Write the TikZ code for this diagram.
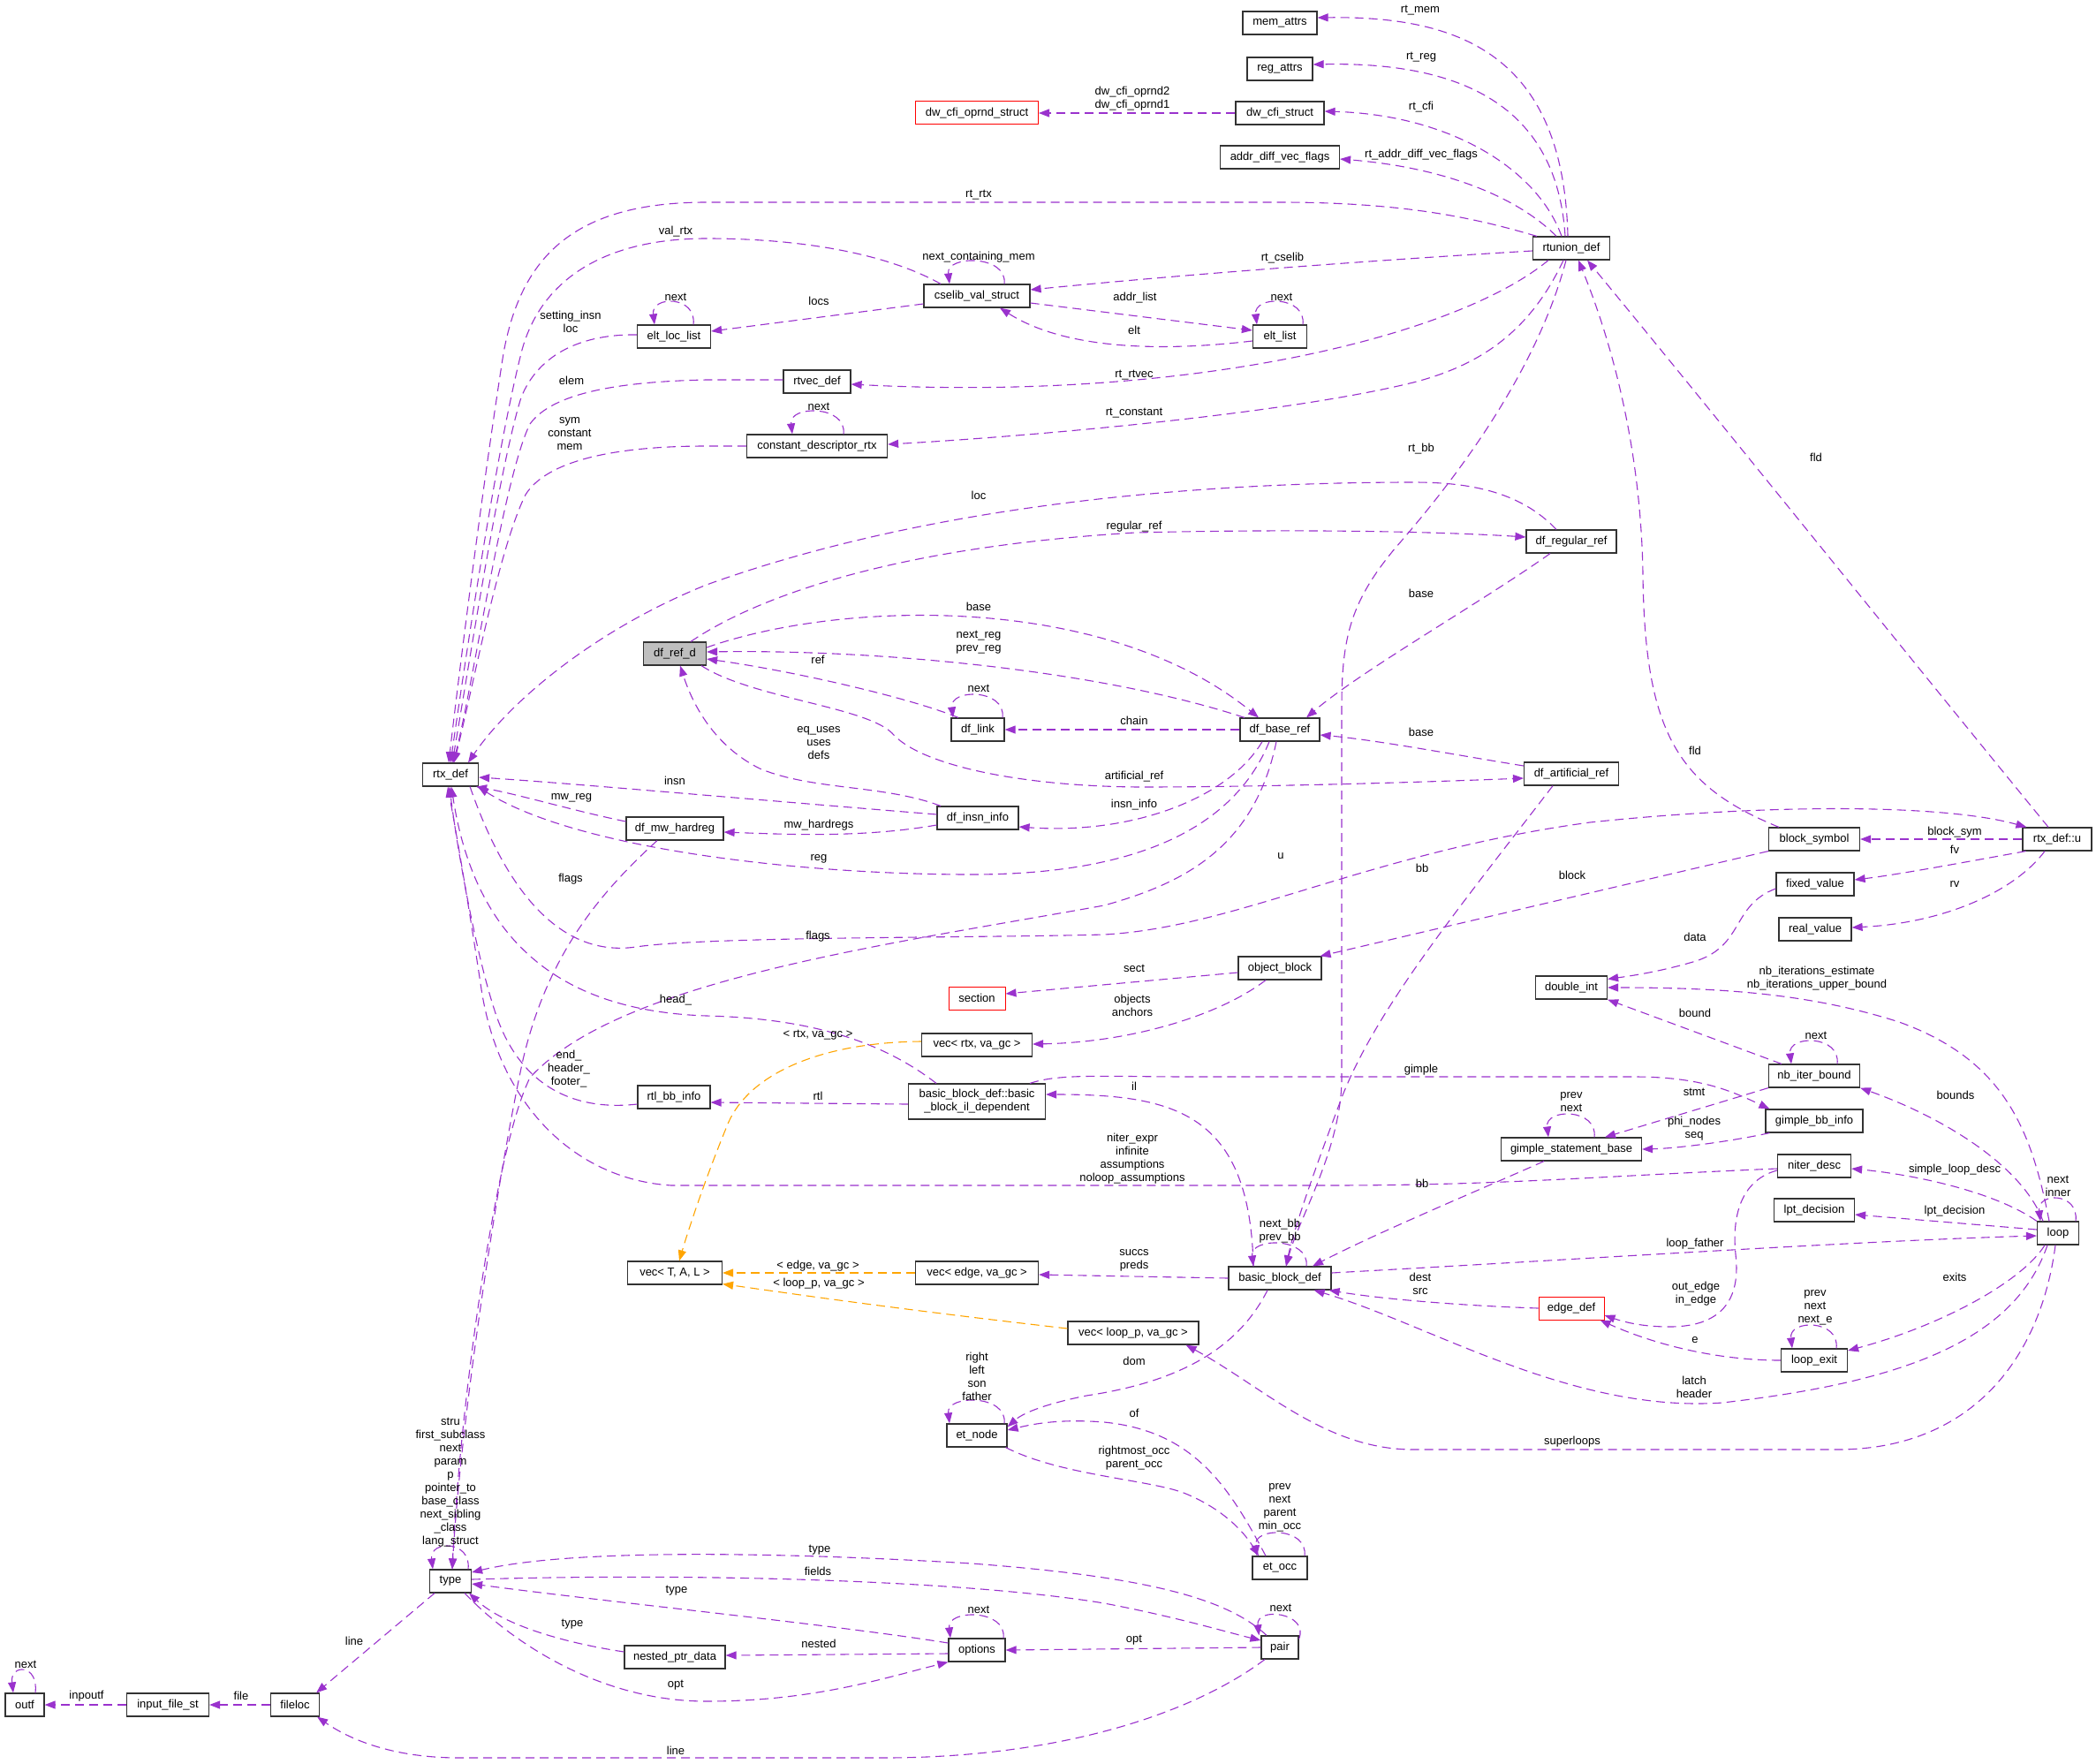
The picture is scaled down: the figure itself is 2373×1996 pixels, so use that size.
\documentclass[tikz,border=0pt]{standalone}
\usepackage{fontspec}
\setmainfont{Liberation Sans}
\usetikzlibrary{arrows.meta}
\definecolor{purp}{HTML}{9A32CD}
\definecolor{orng}{HTML}{FFA500}
\newcommand\lblfont{\fontsize{13}{15}\selectfont}
\begin{document}
\begin{tikzpicture}[x=1pt,y=-1pt,
  box/.style={draw=black!80,line width=1.2pt,fill=white,minimum height=26pt,inner xsep=3pt,inner ysep=0pt,font=\lblfont},
  rbox/.style={box,draw=red,line width=1pt},
  lab/.style={font=\lblfont,inner sep=0pt,align=center},
  pe/.style={draw=purp,line width=1.1pt,dash pattern=on 10pt off 6pt,-{Triangle[length=12pt,width=9pt]}},
  oe/.style={pe,draw=orng}]
\fill[white] (0,0) rectangle (2373,1996);
\useasboundingbox (0,0) rectangle (2373,1996);

% ---------- nodes ----------
\node[box,minimum width=84pt] (memattrs) at (1449,26) {mem\_attrs};
\node[box,minimum width=74pt] (regattrs) at (1449,78) {reg\_attrs};
\node[rbox,minimum width=139pt] (dwoprnd) at (1106,128) {dw\_cfi\_oprnd\_struct};
\node[box,minimum width=100pt] (dwcfi) at (1449,128) {dw\_cfi\_struct};
\node[box,minimum width=135pt] (addrdiff) at (1449,178) {addr\_diff\_vec\_flags};
\node[box,minimum width=87pt] (rtunion) at (1779,281) {rtunion\_def};
\node[box,minimum width=120pt] (cselib) at (1106,335) {cselib\_val\_struct};
\node[box,minimum width=61pt] (eltlist) at (1449,381) {elt\_list};
\node[box,minimum width=83pt] (eltloc) at (763,381) {elt\_loc\_list};
\node[box,minimum width=76pt] (rtvec) at (925,432) {rtvec\_def};
\node[box,minimum width=159pt] (cdr) at (925,505) {constant\_descriptor\_rtx};
\node[box,minimum width=102pt] (dfregular) at (1779,613) {df\_regular\_ref};
\node[box,minimum width=71pt,fill=gray!50] (dfref) at (764,740) {df\_ref\_d};
\node[box,minimum width=63pt] (rtxdef) at (510,877) {rtx\_def};
\node[box,minimum width=60pt] (dflink) at (1107,826) {df\_link};
\node[box,minimum width=90pt] (dfbase) at (1449,826) {df\_base\_ref};
\node[box,minimum width=107pt] (dfartificial) at (1779,876) {df\_artificial\_ref};
\node[box,minimum width=92pt] (dfinsn) at (1107,926) {df\_insn\_info};
\node[box,minimum width=110pt] (dfmw) at (764,938) {df\_mw\_hardreg};
\node[box,minimum width=103pt] (blocksym) at (2054,950) {block\_symbol};
\node[box,minimum width=78pt] (rtxu) at (2329,950) {rtx\_def::u};
\node[box,minimum width=88pt] (fixed) at (2055,1001) {fixed\_value};
\node[box,minimum width=82pt] (real) at (2055,1052) {real\_value};
\node[box,minimum width=94pt] (objblock) at (1449,1096) {object\_block};
\node[rbox,minimum width=64pt] (section) at (1106,1130) {section};
\node[box,minimum width=125pt] (vecrtx) at (1106,1183) {vec< rtx, va\_gc >};
\node[box,minimum width=81pt] (doubleint) at (1779,1118) {double\_int};
\node[box,minimum width=103pt] (nbiter) at (2054,1218) {nb\_iter\_bound};
\node[box,minimum width=155pt,minimum height=40pt,align=center] (ildep) at (1106,1247) {basic\_block\_def::basic\\\_block\_il\_dependent};
\node[box,minimum width=82pt] (rtlbb) at (763,1242) {rtl\_bb\_info};
\node[box,minimum width=110pt] (gimplebb) at (2054,1269) {gimple\_bb\_info};
\node[box,minimum width=159pt] (gimplestmt) at (1779,1301) {gimple\_statement\_base};
\node[box,minimum width=83pt] (niter) at (2054,1320) {niter\_desc};
\node[box,minimum width=91pt] (lpt) at (2054,1370) {lpt\_decision};
\node[box,minimum width=47pt] (loop) at (2330,1396) {loop};
\node[box,minimum width=107pt] (vecT) at (764,1441) {vec< T, A, L >};
\node[box,minimum width=139pt] (vecedge) at (1106,1441) {vec< edge, va\_gc >};
\node[box,minimum width=116pt] (bbdef) at (1449,1447) {basic\_block\_def};
\node[box,minimum width=148pt] (veclp) at (1283,1509) {vec< loop\_p, va\_gc >};
\node[rbox,minimum width=74pt] (edgedef) at (1779,1481) {edge\_def};
\node[box,minimum width=75pt] (loopexit) at (2054,1540) {loop\_exit};
\node[box,minimum width=68pt] (etnode) at (1106,1625) {et\_node};
\node[box,minimum width=62pt] (etocc) at (1449,1775) {et\_occ};
\node[box,minimum width=47pt] (type) at (510,1790) {type};
\node[box,minimum width=64pt] (options) at (1106,1868) {options};
\node[box,minimum width=42pt] (pair) at (1449,1865) {pair};
\node[box,minimum width=114pt] (nested) at (764,1876) {nested\_ptr\_data};
\node[box,minimum width=44pt] (outf) at (28,1930) {outf};
\node[box,minimum width=93pt] (inputfile) at (190,1930) {input\_file\_st};
\node[box,minimum width=55pt] (fileloc) at (334,1930) {fileloc};

% ---------- edges ----------
% rtunion_def fan
\draw[pe] ([xshift=-4pt]rtunion.north) .. controls (1770,60) and (1650,18) .. ([yshift=6pt]memattrs.east);
\draw[pe] ([xshift=-7pt]rtunion.north) .. controls (1762,110) and (1640,70) .. ([yshift=5pt]regattrs.east);
\draw[pe] ([xshift=-11pt]rtunion.north) .. controls (1740,190) and (1640,130) .. ([yshift=2pt]dwcfi.east);
\draw[pe] ([xshift=-17pt]rtunion.north) .. controls (1720,225) and (1640,190) .. ([yshift=-2pt]addrdiff.east);
\draw[pe] (dwcfi.west) -- (dwoprnd.east);
\draw[pe] ([xshift=5pt]rtunion.north west) .. controls (1680,250) and (1600,229) .. (1450,229) -- (800,229) .. controls (650,229) and (590,290) .. (570,400) .. controls (545,560) and (520,760) .. ([xshift=-2pt]rtxdef.north);
\draw[pe] ([yshift=-3pt]rtunion.west) .. controls (1550,295) and (1350,310) .. ([yshift=7pt]cselib.east);
\draw[pe] ([xshift=-26pt]rtunion.south) .. controls (1650,380) and (1350,455) .. ([yshift=-3pt]rtvec.east);
\draw[pe] ([xshift=-9pt]rtunion.south) .. controls (1730,380) and (1670,415) .. (1600,433) .. controls (1450,470) and (1150,495) .. ([yshift=2pt]cdr.east);
\draw[pe] ([xshift=-6pt]rtunion.south) .. controls (1740,420) and (1650,540) .. (1580,620) .. controls (1530,680) and (1519,720) .. (1519,800) -- (1519,1220) .. controls (1519,1300) and (1470,1380) .. ([xshift=7pt]bbdef.north);
% cselib
\draw[pe] ([xshift=31pt]cselib.north) .. controls +(4,-33) and +(-4,-33) .. ([xshift=-31pt]cselib.north);
\draw[pe] ([xshift=-41pt]cselib.north) .. controls (1000,285) and (900,270) .. (800,270) .. controls (680,270) and (610,320) .. (590,400) .. controls (560,520) and (525,760) .. (rtxdef.north);
\draw[pe] ([yshift=-9pt]cselib.west) -- ([yshift=6pt]eltloc.east);
\draw[pe] ([yshift=-8pt]cselib.east) -- ([yshift=7pt]eltlist.west);
\draw[pe] ([yshift=-5pt]eltlist.west) .. controls (1300,400) and (1200,392) .. ([xshift=26pt]cselib.south);
\draw[pe] ([xshift=26pt]eltlist.north) .. controls +(4,-33) and +(-4,-33) .. ([xshift=-26pt]eltlist.north);
\draw[pe] ([xshift=22pt]eltloc.north) .. controls +(4,-33) and +(-4,-33) .. ([xshift=-22pt]eltloc.north);
\draw[pe] ([yshift=2pt]eltloc.west) .. controls (660,378) and (610,400) .. (590,450) .. controls (565,530) and (530,760) .. ([xshift=2pt]rtxdef.north);
\draw[pe] ([yshift=2pt]rtvec.west) -- (800,430) .. controls (700,432) and (625,445) .. (600,480) .. controls (570,540) and (535,780) .. ([xshift=3pt]rtxdef.north);
\draw[pe] ([xshift=30pt]cdr.north) .. controls +(4,-33) and +(-4,-33) .. ([xshift=-28pt]cdr.north);
\draw[pe] (cdr.west) -- (800,505) .. controls (700,505) and (620,520) .. (595,560) .. controls (565,620) and (535,780) .. ([xshift=4pt]rtxdef.north);
% df refs
\draw[pe] ([xshift=-17pt]dfregular.north) .. controls (1720,555) and (1660,546) .. (1600,546) .. controls (1350,546) and (1050,572) .. (800,662) .. controls (680,710) and (580,790) .. ([xshift=20pt]rtxdef.north);
\draw[pe] ([xshift=18pt]dfref.north) .. controls (850,680) and (1000,620) .. (1285,603) .. controls (1500,598) and (1650,603) .. ([yshift=5pt]dfregular.west);
\draw[pe] ([xshift=-24pt]dfregular.south) .. controls (1680,680) and (1540,760) .. ([xshift=30pt]dfbase.north);
\draw[pe] ([yshift=7pt]dfref.east) .. controls (950,680) and (1250,670) .. ([xshift=-24pt]dfbase.north);
\draw[pe] ([xshift=-40pt]dfbase.north) .. controls (1250,760) and (1000,735) .. ([yshift=2pt]dfref.east);
\draw[pe] ([xshift=-22pt]dflink.north) .. controls (1030,790) and (900,760) .. ([yshift=-6pt]dfref.east);
\draw[pe] ([xshift=28pt]dflink.north) .. controls +(4,-33) and +(-4,-33) .. ([xshift=-28pt]dflink.north);
\draw[pe] (dfbase.west) -- (dflink.east);
\draw[pe] ([xshift=-42pt]dfinsn.north) .. controls (1000,888) and (920,895) .. (860,870) .. controls (810,845) and (785,800) .. ([xshift=6pt]dfref.south);
\draw[pe] ([yshift=9pt]dfartificial.west) .. controls (1650,855) and (1560,838) .. ([yshift=-6pt]dfbase.east);
\draw[pe] ([xshift=-6pt]dfref.south east) .. controls (850,790) and (980,800) .. (1010,830) .. controls (1040,865) and (1150,890) .. (1290,891) .. controls (1450,891) and (1650,884) .. ([yshift=-5pt]dfartificial.west);
\draw[pe] ([yshift=4pt]dfinsn.west) .. controls (850,905) and (650,887) .. ([yshift=-3pt]rtxdef.east);
\draw[pe] ([yshift=8pt]dfmw.west) .. controls (650,918) and (590,900) .. ([xshift=-3pt]rtxdef.south east);
\draw[pe] ([yshift=-8pt]dfinsn.west) .. controls (980,948) and (900,945) .. ([yshift=-4pt]dfmw.east);
\draw[pe] ([xshift=-20pt]dfbase.south) .. controls (1390,905) and (1280,945) .. ([yshift=-10pt]dfinsn.east);
\draw[pe] ([xshift=-12pt]dfbase.south) .. controls (1400,930) and (1300,990) .. (1100,990) .. controls (900,990) and (650,960) .. ([xshift=-1pt]rtxdef.south east);
\draw[pe] ([xshift=-4pt]dfbase.south) .. controls (1420,960) and (1340,1000) .. (1250,1025) .. controls (1000,1070) and (700,1110) .. (600,1220) .. controls (560,1300) and (520,1600) .. ([xshift=2pt]type.north);
\draw[pe] ([xshift=-20pt]dfmw.south) .. controls (680,1010) and (620,1080) .. (592,1200) .. controls (566,1320) and (522,1600) .. ([xshift=2pt]type.north);
\draw[pe] ([xshift=-21pt]dfartificial.south) .. controls (1650,1030) and (1560,1140) .. (1520,1240) .. controls (1490,1320) and (1465,1390) .. ([xshift=7pt]bbdef.north);
% rtx_def bottom
\draw[pe] ([xshift=-10pt]rtxdef.south east) .. controls (570,1000) and (630,1085) .. (720,1072) .. controls (800,1060) and (1100,1062) .. (1250,1058) .. controls (1400,1050) and (1550,965) .. (1800,931) .. controls (2000,910) and (2200,910) .. ([xshift=5pt]rtxu.north west);
\draw[pe] ([xshift=-46pt]ildep.north) .. controls (1000,1180) and (920,1153) .. (800,1150) .. controls (650,1145) and (540,1080) .. ([xshift=1pt]rtxdef.south);
\draw[pe] ([yshift=-8pt]rtlbb.west) .. controls (650,1258) and (590,1230) .. (562,1150) .. controls (538,1080) and (516,950) .. ([xshift=-1pt]rtxdef.south);
\draw[pe] ([yshift=-3pt]niter.west) .. controls (1800,1332) and (1700,1342) .. (1500,1342) -- (760,1342) .. controls (650,1335) and (565,1250) .. (545,1120) .. controls (530,1020) and (516,940) .. ([xshift=-3pt]rtxdef.south);
% rtx_def::u
\draw[pe] ([xshift=-10pt]rtxu.north) .. controls (2150,730) and (1950,480) .. ([xshift=18pt]rtunion.south);
\draw[pe] ([xshift=-40pt]blocksym.north) .. controls (1900,890) and (1862,830) .. (1860,650) .. controls (1858,520) and (1830,400) .. ([xshift=8pt]rtunion.south);
\draw[pe] (rtxu.west) -- (blocksym.east);
\draw[pe] ([xshift=4pt]rtxu.south west) .. controls (2230,975) and (2150,990) .. ([yshift=5pt]fixed.east);
\draw[pe] ([xshift=-14pt]rtxu.south) .. controls (2280,1010) and (2200,1045) .. ([yshift=2pt]real.east);
\draw[pe] ([yshift=-5pt]fixed.west) .. controls (1960,1025) and (1975,1070) .. (1920,1088) .. controls (1880,1100) and (1845,1105) .. ([yshift=-4pt]doubleint.north east);
\draw[pe] (blocksym.south west) -- ([xshift=-2pt]objblock.north east);
\draw[pe] ([yshift=-5pt]objblock.west) -- ([yshift=5pt]section.east);
\draw[pe] ([xshift=-16pt]objblock.south) .. controls (1380,1150) and (1280,1180) .. ([yshift=1pt]vecrtx.east);
\draw[oe] ([yshift=4pt]vecrtx.west) .. controls (930,1180) and (850,1215) .. (825,1270) .. controls (800,1330) and (780,1390) .. ([xshift=5pt]vecT.north);
% basic blocks
\draw[pe] ([yshift=-3pt]ildep.west) -- ([yshift=-6pt]rtlbb.east);
\draw[pe] ([xshift=-30pt]bbdef.north) .. controls (1415,1260) and (1330,1239) .. ([yshift=8pt]ildep.east);
\draw[pe] ([xshift=60pt]ildep.north) .. controls (1200,1215) and (1250,1219) .. (1350,1219) -- (1850,1219) .. controls (1925,1219) and (1960,1235) .. ([xshift=5pt]gimplebb.north west);
\draw[pe] ([xshift=5pt]gimplebb.south west) .. controls (1960,1292) and (1900,1300) .. (gimplestmt.east);
\draw[pe] (nbiter.south west) -- ([xshift=38pt]gimplestmt.north);
\draw[pe] ([xshift=26pt]gimplestmt.north) .. controls +(4,-33) and +(-4,-33) .. ([xshift=-26pt]gimplestmt.north);
\draw[pe] ([xshift=-31pt]gimplestmt.south) .. controls (1680,1345) and (1560,1395) .. ([xshift=37pt]bbdef.north);
\draw[pe] ([xshift=-37pt]nbiter.north) -- (doubleint.south east);
\draw[pe] ([xshift=26pt]nbiter.north) .. controls +(4,-33) and +(-4,-33) .. ([xshift=-26pt]nbiter.north);
% loop
\draw[pe] ([xshift=-10pt]loop.north) .. controls (2300,1280) and (2270,1200) .. (2150,1157) .. controls (2050,1125) and (1950,1118) .. (doubleint.east);
\draw[pe] ([xshift=-17pt]loop.north) .. controls (2290,1320) and (2200,1265) .. (nbiter.south east);
\draw[pe] (loop.north west) .. controls (2260,1350) and (2170,1330) .. ([yshift=-3pt]niter.east);
\draw[pe] ([yshift=4pt]loop.west) -- ([yshift=-5pt]lpt.east);
\draw[pe] ([xshift=20pt]loop.north) .. controls +(4,-33) and +(-4,-33) .. ([xshift=-20pt]loop.north);
\draw[pe] ([yshift=6pt]bbdef.east) .. controls (1800,1425) and (2100,1405) .. ([yshift=-3pt]loop.west);
\draw[pe] ([xshift=-12pt]loop.south) .. controls (2280,1520) and (2150,1565) .. (1950,1588) .. controls (1780,1600) and (1620,1500) .. ([xshift=-20pt]bbdef.south east);
\draw[pe] ([xshift=-15pt]loop.south) .. controls (2290,1450) and (2200,1500) .. ([yshift=11pt]loopexit.east);
\draw[pe] ([xshift=25pt]loopexit.north) .. controls +(4,-33) and +(-4,-33) .. ([xshift=-25pt]loopexit.north);
\draw[pe] ([xshift=-3pt]loop.south) .. controls (2310,1540) and (2230,1641) .. (2080,1641) -- (1600,1641) .. controls (1500,1641) and (1430,1570) .. ([xshift=-15pt]veclp.south east);
\draw[pe] (loopexit.west) .. controls (1950,1540) and (1880,1525) .. ([xshift=-5pt]edgedef.south east);
\draw[pe] ([yshift=-5pt]niter.west) .. controls (1975,1335) and (1960,1370) .. (1965,1420) .. controls (1972,1480) and (1940,1502) .. (1890,1502) .. controls (1860,1502) and (1840,1497) .. ([yshift=-8pt]edgedef.east);
\draw[pe] (edgedef.west) .. controls (1650,1478) and (1560,1470) .. ([xshift=-3pt]bbdef.south east);
\draw[pe] ([xshift=30pt]bbdef.north) .. controls +(4,-33) and +(-4,-33) .. ([xshift=-30pt]bbdef.north);
\draw[pe] (bbdef.west) -- ([yshift=-2pt]vecedge.east);
\draw[oe] (vecedge.west) -- (vecT.east);
\draw[oe] ([yshift=5pt]veclp.west) .. controls (1000,1480) and (900,1465) .. ([yshift=1pt]vecT.south east);
% et
\draw[pe] ([xshift=-14pt]bbdef.south) .. controls (1400,1530) and (1330,1565) .. (1230,1580) .. controls (1190,1588) and (1160,1598) .. ([yshift=-4pt]etnode.north east);
\draw[pe] ([xshift=31pt]etnode.north) .. controls +(4,-33) and +(-4,-33) .. ([xshift=-31pt]etnode.north);
\draw[pe] ([xshift=-16pt]etocc.north) .. controls (1390,1680) and (1350,1620) .. (1250,1610) .. controls (1200,1606) and (1170,1612) .. ([yshift=6pt]etnode.east);
\draw[pe] ([xshift=-2pt]etnode.south east) .. controls (1200,1670) and (1300,1675) .. (1340,1690) .. controls (1390,1710) and (1412,1740) .. ([xshift=-24pt]etocc.north);
\draw[pe] ([xshift=28pt]etocc.north) .. controls +(4,-33) and +(-4,-33) .. ([xshift=-26pt]etocc.north);
% gengtype
\draw[pe] ([yshift=-4pt]pair.north east) .. controls +(12,-30) and +(-4,-33) .. ([xshift=-2pt]pair.north west);
\draw[pe] ([xshift=30pt]options.north) .. controls +(4,-33) and +(-4,-33) .. ([xshift=-30pt]options.north);
\draw[pe] (pair.west) -- (options.east);
\draw[pe] ([yshift=-4pt]options.west) -- ([yshift=2pt]nested.east);
\draw[pe] ([xshift=-8pt]type.south east) .. controls (580,1860) and (680,1926) .. (800,1926) .. controls (920,1926) and (1000,1900) .. (options.south west);
\draw[pe] ([yshift=8pt]options.west) .. controls (950,1840) and (700,1815) .. ([yshift=-3pt]type.east);
\draw[pe] ([yshift=2pt]type.east) .. controls (800,1780) and (1100,1790) .. (1250,1815) .. controls (1330,1830) and (1390,1848) .. ([yshift=8pt]pair.west);
\draw[pe] ([xshift=-15pt]pair.north) .. controls (1390,1810) and (1300,1785) .. (1100,1770) .. controls (900,1758) and (650,1752) .. ([yshift=10pt]type.east);
\draw[pe] ([yshift=6pt]nested.west) .. controls (640,1860) and (570,1840) .. ([xshift=-3pt]type.south east);
\draw[pe] ([xshift=-18pt]type.south) -- ([xshift=-4pt]fileloc.north east);
\draw[pe] ([xshift=-17pt]pair.south) .. controls (1350,1940) and (1200,1990) .. (1000,1990) -- (520,1990) .. controls (450,1990) and (400,1972) .. ([xshift=-3pt]fileloc.south east);
\draw[pe] (fileloc.west) -- (inputfile.east);
\draw[pe] (inputfile.west) -- (outf.east);
\draw[pe] ([xshift=12pt]outf.north) .. controls +(4,-33) and +(-4,-33) .. ([xshift=-13pt]outf.north);
\draw[pe] ([xshift=20pt]type.north) .. controls +(4,-33) and +(-4,-33) .. ([xshift=-20pt]type.north);

% ---------- labels ----------
\node[lab] (t1) at (1608,12) {rt\_mem};
\node[lab] (t2) at (1609,65) {rt\_reg};
\node[lab] (t3) at (1609,121) {rt\_cfi};
\node[lab] (t4) at (1609,175) {rt\_addr\_diff\_vec\_flags};
\node[lab] (t5) at (1282,112) {dw\_cfi\_oprnd2\\dw\_cfi\_oprnd1};
\node[lab] (t6) at (1108,221) {rt\_rtx};
\node[lab] (t7) at (765,262) {val\_rtx};
\node[lab] (t8) at (1108,291) {next\_containing\_mem};
\node[lab] (t9) at (1452,292) {rt\_cselib};
\node[lab] (t10) at (927,341) {locs};
\node[lab] (t11) at (1285,337) {addr\_list};
\node[lab] (t12) at (1451,336) {next};
\node[lab] (t13) at (1284,374) {elt};
\node[lab] (t14) at (765,336) {next};
\node[lab] (t15) at (646,364) {setting\_insn\\loc};
\node[lab] (t16) at (647,431) {elem};
\node[lab] (t17) at (1284,425) {rt\_rtvec};
\node[lab] (t18) at (927,460) {next};
\node[lab] (t19) at (1284,468) {rt\_constant};
\node[lab] (t20) at (645,491) {sym\\constant\\mem};
\node[lab] (t21) at (1609,508) {rt\_bb};
\node[lab] (t22) at (2056,518) {fld};
\node[lab] (t23) at (1108,561) {loc};
\node[lab] (t24) at (1284,596) {regular\_ref};
\node[lab] (t25) at (1609,672) {base};
\node[lab] (t26) at (1108,687) {base};
\node[lab] (t27) at (1108,727) {next\_reg\\prev\_reg};
\node[lab] (t28) at (926,747) {ref};
\node[lab] (t29) at (1108,779) {next};
\node[lab] (t30) at (1284,816) {chain};
\node[lab] (t31) at (1609,829) {base};
\node[lab] (t32) at (1919,850) {fld};
\node[lab] (t33) at (927,841) {eq\_uses\\uses\\defs};
\node[lab] (t34) at (1284,879) {artificial\_ref};
\node[lab] (t35) at (764,884) {insn};
\node[lab] (t36) at (1284,911) {insn\_info};
\node[lab] (t37) at (647,903) {mw\_reg};
\node[lab] (t38) at (927,934) {mw\_hardregs};
\node[lab] (t39) at (2213,942) {block\_sym};
\node[lab] (t40) at (2213,962) {fv};
\node[lab] (t41) at (1450,969) {u};
\node[lab] (t42) at (927,972) {reg};
\node[lab] (t43) at (646,995) {flags};
\node[lab] (t44) at (1610,983) {bb};
\node[lab] (t45) at (1780,991) {block};
\node[lab] (t46) at (2213,1001) {rv};
\node[lab] (t47) at (926,1060) {flags};
\node[lab] (t48) at (1919,1061) {data};
\node[lab] (t49) at (2057,1108) {nb\_iterations\_estimate\\nb\_iterations\_upper\_bound};
\node[lab] (t50) at (1284,1096) {sect};
\node[lab] (t51) at (1282,1138) {objects\\anchors};
\node[lab] (t52) at (765,1132) {head\_};
\node[lab] (t53) at (1919,1147) {bound};
\node[lab] (t54) at (926,1172) {< rtx, va\_gc >};
\node[lab] (t55) at (2056,1172) {next};
\node[lab] (t56) at (644,1210) {end\_\\header\_\\footer\_};
\node[lab] (t57) at (1609,1211) {gimple};
\node[lab] (t58) at (1284,1230) {il};
\node[lab] (t59) at (1918,1236) {stmt};
\node[lab] (t60) at (2214,1240) {bounds};
\node[lab] (t61) at (926,1241) {rtl};
\node[lab] (t62) at (1779,1248) {prev\\next};
\node[lab] (t63) at (1918,1278) {phi\_nodes\\seq};
\node[lab] (t64) at (1282,1312) {niter\_expr\\infinite\\assumptions\\noloop\_assumptions};
\node[lab] (t65) at (2213,1324) {simple\_loop\_desc};
\node[lab] (t66) at (1610,1340) {bb};
\node[lab] (t67) at (2330,1343) {next\\inner};
\node[lab] (t68) at (2213,1371) {lpt\_decision};
\node[lab] (t69) at (1919,1408) {loop\_father};
\node[lab] (t70) at (1449,1394) {next\_bb\\prev\_bb};
\node[lab] (t71) at (1284,1427) {succs\\preds};
\node[lab] (t72) at (926,1433) {< edge, va\_gc >};
\node[lab] (t73) at (2213,1446) {exits};
\node[lab] (t74) at (1608,1453) {dest\\src};
\node[lab] (t75) at (927,1453) {< loop\_p, va\_gc >};
\node[lab] (t76) at (1920,1465) {out\_edge\\in\_edge};
\node[lab] (t77) at (2055,1480) {prev\\next\\next\_e};
\node[lab] (t78) at (1919,1517) {e};
\node[lab] (t79) at (1284,1541) {dom};
\node[lab] (t80) at (1106,1558) {right\\left\\son\\father};
\node[lab] (t81) at (1918,1570) {latch\\header};
\node[lab] (t82) at (1284,1600) {of};
\node[lab] (t83) at (1780,1632) {superloops};
\node[lab] (t84) at (1284,1651) {rightmost\_occ\\parent\_occ};
\node[lab] (t85) at (1449,1707) {prev\\next\\parent\\min\_occ};
\node[lab] (t86) at (510,1678) {stru\\first\_subclass\\next\\param\\p\\pointer\_to\\base\_class\\next\_sibling\\\_class\\lang\_struct};
\node[lab] (t87) at (928,1755) {type};
\node[lab] (t88) at (926,1779) {fields};
\node[lab] (t89) at (766,1801) {type};
\node[lab] (t90) at (1450,1820) {next};
\node[lab] (t91) at (1108,1822) {next};
\node[lab] (t92) at (648,1839) {type};
\node[lab] (t93) at (1284,1857) {opt};
\node[lab] (t94) at (401,1858) {line};
\node[lab] (t95) at (927,1861) {nested};
\node[lab] (t96) at (29,1884) {next};
\node[lab] (t97) at (765,1908) {opt};
\node[lab] (t98) at (98,1920) {inpoutf};
\node[lab] (t99) at (273,1920) {file};
\node[lab] (t100) at (765,1982) {line};
\end{tikzpicture}
\end{document}
